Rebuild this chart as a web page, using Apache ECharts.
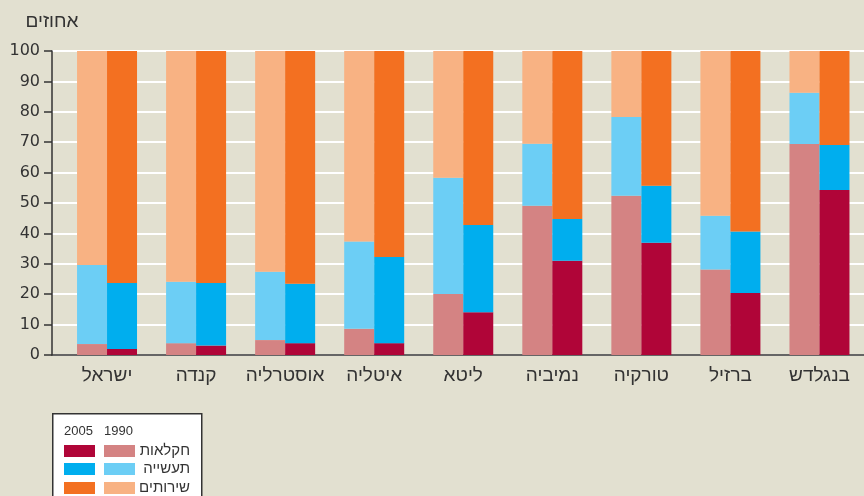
<!DOCTYPE html>
<html><head><meta charset="utf-8">
<script src="https://cdn.jsdelivr.net/npm/echarts@6/dist/echarts.min.js"></script>
<style>html,body{margin:0;padding:0;background:#E2E0D0;}#c{width:864px;height:496px;}</style>
</head><body><div id="c"></div>
<script>
const categories = ['ישראל','קנדה','אוסטרליה','איטליה','ליטא','נמיביה','טורקיה','ברזיל','בנגלדש'];
const yTicks = [0,10,20,30,40,50,60,70,80,90,100];
const agri1990 = [3.6, 3.9, 4.9, 8.6, 20.1, 49.1, 52.4, 28.1, 69.4];
const ind1990  = [26.0, 20.2, 22.5, 28.7, 38.2, 20.4, 25.9, 17.7, 16.9];
const serv1990 = [70.4, 75.9, 72.6, 62.7, 41.7, 30.5, 21.7, 54.2, 13.7];
const agri2005 = [2.0, 3.1, 3.9, 3.9, 14.1, 31.0, 36.9, 20.4, 54.3];
const ind2005  = [21.7, 20.6, 19.5, 28.3, 28.7, 13.7, 18.8, 20.2, 14.8];
const serv2005 = [76.3, 76.3, 76.6, 67.8, 57.2, 55.3, 44.3, 59.4, 30.9];
const seriesNames = ['חקלאות','תעשייה','שירותים'];
const years = ['1990','2005'];

const FONT = '"Liberation Sans", "DejaVu Sans", sans-serif';
const NUMFONT = '"DejaVu Sans", "Liberation Sans", sans-serif';
const colors1990 = ['#D48383','#6CCEF5','#F8B283'];
const colors2005 = ['#B00538','#00AEEE','#F37021'];
const data1990 = [agri1990, ind1990, serv1990];
const data2005 = [agri2005, ind2005, serv2005];

const series = [];
for (let i = 0; i < 3; i++) {
  series.push({name: seriesNames[i], type: 'bar', stack: years[0], xAxisIndex: 1, yAxisIndex: 1,
    barWidth: 30, barGap: '0%', data: data1990[i], itemStyle: {color: colors1990[i]}});
}
for (let i = 0; i < 3; i++) {
  series.push({name: seriesNames[i] + ' ' + years[1], type: 'bar', stack: years[1], xAxisIndex: 1, yAxisIndex: 1,
    barWidth: 30, barGap: '0%', data: data2005[i], itemStyle: {color: colors2005[i]}});
}

// legend drawn as graphic elements
const legendGraphics = [
  {type: 'rect', left: 52, top: 413, z: 10, shape: {width: 149, height: 90},
    style: {fill: '#FFFFFF', stroke: '#333', lineWidth: 1.5}},
  {type: 'text', left: 64, top: 425, z: 11, style: {text: years[1], fill: '#333', font: '13px ' + FONT}},
  {type: 'text', left: 104, top: 425, z: 11, style: {text: years[0], fill: '#333', font: '13px ' + FONT}}
];
const rowY = [445, 463, 482];
for (let i = 0; i < 3; i++) {
  legendGraphics.push({type: 'rect', left: 64, top: rowY[i], z: 11, shape: {width: 31, height: 12}, style: {fill: colors2005[i]}});
  legendGraphics.push({type: 'rect', left: 104, top: rowY[i], z: 11, shape: {width: 31, height: 12}, style: {fill: colors1990[i]}});
  legendGraphics.push({type: 'text', right: 864 - 190, top: rowY[i] - 2, z: 11,
    style: {text: seriesNames[i], fill: '#333', font: '15px ' + FONT, textAlign: 'right'}});
}

const chart = echarts.init(document.getElementById('c'));
chart.setOption({
  backgroundColor: '#E2E0D0',
  animation: false,
  textStyle: {fontFamily: FONT},
  grid: [
    {left: 52, right: 0, top: 51, bottom: 141},
    {left: 62.5, right: 0, top: 51, bottom: 141}
  ],
  xAxis: [
    {type: 'category', gridIndex: 0, data: categories, axisLine: {show: true, lineStyle: {color: '#333', width: 1.5}},
      axisTick: {show: false}, axisLabel: {show: false}},
    {type: 'category', gridIndex: 1, data: categories, axisLine: {show: false}, axisTick: {show: false},
      axisLabel: {color: '#333', fontSize: 19, fontFamily: FONT, margin: 11, interval: 0}}
  ],
  yAxis: [
    {type: 'value', gridIndex: 0, min: 0, max: 100, interval: 10,
      axisLine: {show: true, lineStyle: {color: '#333', width: 1.5}},
      axisTick: {show: true, length: 8, lineStyle: {color: '#333', width: 1.5}},
      axisLabel: {color: '#333', fontSize: 16, fontFamily: NUMFONT, margin: 12},
      splitLine: {show: true, lineStyle: {color: '#FFFFFF', width: 2}},
      name: 'אחוזים', nameLocation: 'end', nameGap: 20,
      nameTextStyle: {color: '#333', fontSize: 19, fontFamily: FONT, align: 'center'}
    },
    {type: 'value', gridIndex: 1, min: 0, max: 100, interval: 10, show: false}
  ],
  graphic: legendGraphics,
  series: series
});
</script></body></html>
